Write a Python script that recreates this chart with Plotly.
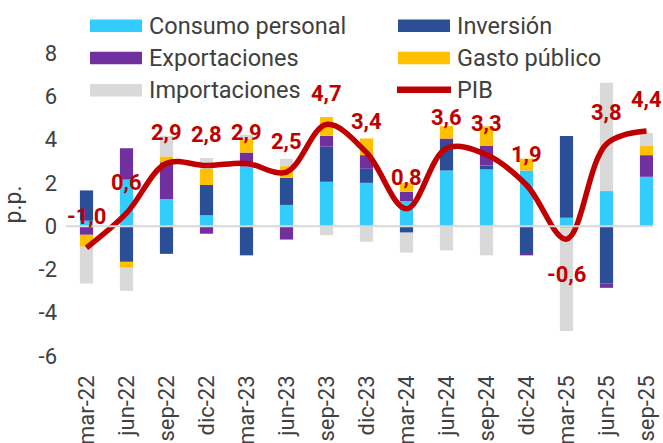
import plotly.graph_objects as go

# ---------------- data ----------------
categories = ["mar-22", "jun-22", "sep-22", "dic-22", "mar-23", "jun-23", "sep-23",
              "dic-23", "mar-24", "jun-24", "sep-24", "dic-24", "mar-25", "jun-25", "sep-25"]

consumo_personal = [0.25, 2.15, 1.25, 0.50, 2.75, 0.98, 2.05, 2.00, 1.15, 2.57, 2.62, 2.57, 0.39, 1.62, 2.28]
inversion        = [1.40, -1.65, -1.28, 1.40, -1.35, 1.25, 1.62, 0.65, -0.30, 1.40, 0.18, -1.28, 3.77, -2.66, 0.00]
exportaciones    = [-0.40, 1.45, 1.70, -0.35, 0.65, -0.62, 0.50, 0.63, 0.43, 0.08, 0.92, -0.07, 0.00, -0.19, 1.00]
gasto_publico    = [-0.55, -0.27, 0.27, 0.75, 0.62, 0.54, 0.87, 0.77, 0.42, 0.57, 0.89, 0.55, -0.10, 0.00, 0.42]
importaciones    = [-1.70, -1.07, 0.95, 0.50, 0.20, 0.34, -0.42, -0.72, -0.92, -1.12, -1.35, 0.00, -4.75, 5.00, 0.60]
pib              = [-1.0, 0.6, 2.9, 2.8, 2.9, 2.5, 4.7, 3.4, 0.8, 3.6, 3.3, 1.9, -0.6, 3.8, 4.4]

y_ticks = [-6, -4, -2, 0, 2, 4, 6, 8]

series_names = ["Consumo personal", "Inversión", "Exportaciones", "Gasto público", "Importaciones"]
series_values = [consumo_personal, inversion, exportaciones, gasto_publico, importaciones]
series_colors = ["#33CCFF", "#2A4F96", "#7030A0", "#FFC000", "#D9D9D9"]
pib_color = "#C00000"
text_color = "#404040"
FONT = "Roboto"

# ---------------- layout geometry ----------------
W, H = 663, 443
ML, MR, MT, MB = 66, 10, 53, 87
PW, PH = W - ML - MR, H - MT - MB


def px_x(px):
    return (px - ML) / PW


def px_y(py):
    return (H - MB - py) / PH


fig = go.Figure()

for name, vals, col in zip(series_names, series_values, series_colors):
    fig.add_trace(go.Bar(
        x=categories, y=vals, name=name, width=0.33,
        marker=dict(color=col, line=dict(width=0)),
        showlegend=False,
    ))

fig.add_trace(go.Scatter(
    x=categories, y=pib, name="PIB", mode="lines",
    line=dict(color=pib_color, width=5.5, shape="spline", smoothing=1.0),
    showlegend=False,
))

# data labels
annotations = []
for c, v in zip(categories, pib):
    label = f"{v:.1f}".replace(".", ",")
    below = (v < 0 and c != categories[0])
    annotations.append(dict(
        x=c, y=v, xref="x", yref="y", text=label, showarrow=False,
        xanchor="center", yanchor="middle",
        yshift=(-35 if below else 31),
        font=dict(family=FONT, size=22, color=pib_color, weight="bold"),
    ))

# manual legend (2 columns x 3 rows)
legend_items = series_names + ["PIB"]
legend_colors = series_colors + [pib_color]
col_x = [(90, 142, 147), (398, 450, 455)]
row_y = [25.7, 58, 90.3]
shapes = []
for i, (name, col) in enumerate(zip(legend_items, legend_colors)):
    cx0, cx1, tx = col_x[i % 2]
    ry = row_y[i // 2]
    if name == "PIB":
        shapes.append(dict(type="line", xref="paper", yref="paper",
                           x0=px_x(cx0 - 1), x1=px_x(cx1 + 1), y0=px_y(ry - 0.5), y1=px_y(ry - 0.5),
                           line=dict(color=col, width=6.5)))
    else:
        shapes.append(dict(type="rect", xref="paper", yref="paper",
                           x0=px_x(cx0), x1=px_x(cx1), y0=px_y(ry - 6.3), y1=px_y(ry + 6.3),
                           fillcolor=col, line=dict(width=0)))
    annotations.append(dict(
        x=px_x(tx), y=px_y(ry), xref="paper", yref="paper", text=name,
        showarrow=False, xanchor="left", yanchor="middle",
        font=dict(family=FONT, size=23.5, color=text_color),
    ))

# zero line on top of bars
shapes.append(dict(type="line", xref="paper", yref="y", x0=0, x1=1, y0=0, y1=0,
                   line=dict(color="#D9D9D9", width=2), layer="above"))

fig.update_layout(
    width=W, height=H,
    margin=dict(l=ML, r=MR, t=MT, b=MB, pad=0, autoexpand=False),
    barmode="relative",
    plot_bgcolor="white", paper_bgcolor="white",
    font=dict(family=FONT, color=text_color),
    showlegend=False,
    annotations=annotations,
    shapes=shapes,
    xaxis=dict(
        type="category", range=[(ML - 86.5) / 40, (W - MR - 86.5) / 40],
        tickangle=-90, tickfont=dict(family=FONT, size=22, color=text_color),
        showgrid=False, zeroline=False, showline=False, ticks="",
        ticklabelstandoff=14, automargin=False,
    ),
    yaxis=dict(
        range=[-6, 8], tickvals=y_ticks, ticktext=[str(t) for t in y_ticks],
        tickfont=dict(family=FONT, size=22, color=text_color),
        showgrid=False, zeroline=False, showline=False, ticks="",
        ticklabelstandoff=8, automargin=False,
        title=dict(text="p.p.", font=dict(family=FONT, size=23, color=text_color), standoff=10),
    ),
)

fig.write_html(
    "out.html",
    config={"displayModeBar": False},
    post_script="document.body.style.margin='0px';document.body.style.overflow='hidden';",
)
